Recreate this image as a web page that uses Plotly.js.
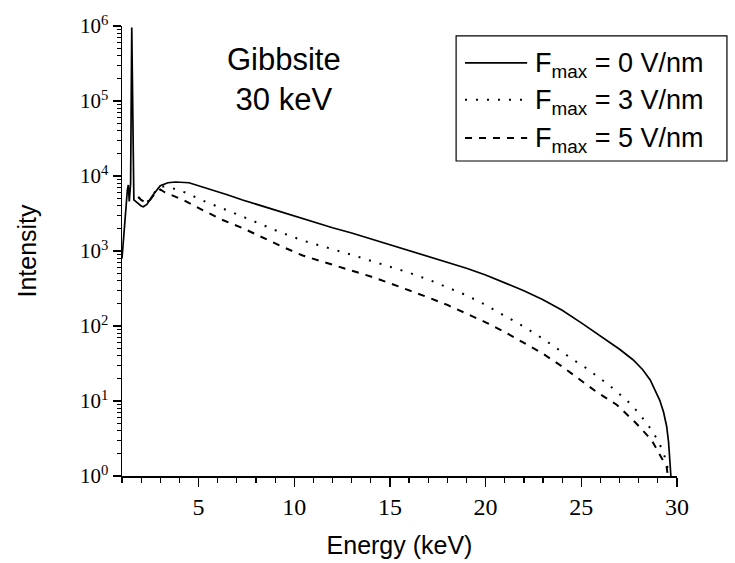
<!DOCTYPE html>
<html>
<head>
<meta charset="utf-8">
<script src="https://cdn.plot.ly/plotly-3.0.1.min.js"></script>
<style>html,body{margin:0;padding:0;background:#fff;}#chart{width:735px;height:563px;}</style>
</head>
<body>
<div id="chart"></div>
<script>
// Energy (keV) and intensity for each field strength
var energy0 = [1.0, 1.07, 1.16, 1.22, 1.28, 1.33, 1.38, 1.45, 1.51, 1.62, 1.8, 2.0, 2.11, 2.3, 2.6, 3.0, 3.4, 3.8, 4.5, 5.0, 5.6, 6.5, 7.3, 8.2, 9.1, 10.0, 10.8, 12, 13, 14, 15, 16, 17, 18, 19, 20, 21, 22, 23, 24, 25, 26, 27, 27.7, 28.2, 28.6, 29.1, 29.3, 29.46, 29.56, 29.63, 29.68];
var intensity0 = [794, 1380, 3160, 4470, 6460, 7590, 4570, 7940, 955000, 4790, 4370, 3980, 3890, 4170, 5500, 7410, 8130, 8320, 8130, 7410, 6760, 5620, 4790, 4070, 3470, 2950, 2510, 2040, 1740, 1450, 1200, 1000, 851, 708, 589, 479, 380, 295, 224, 162, 110, 74.1, 49.0, 35.5, 26.3, 19.1, 10.2, 7.08, 4.57, 2.82, 1.62, 1.0];

var energy3 = [1.85, 2.0, 2.2, 2.4, 2.7, 3.0, 3.3, 3.6, 4.3, 5.42, 6.73, 7.95, 9.17, 10.44, 12, 13, 14, 15, 16, 17, 18, 19, 20, 21, 22, 23, 24, 24.58, 25.19, 25.8, 26.41, 27.01, 27.63, 28.15, 28.62, 28.99, 29.28, 29.46, 29.58];
var intensity3 = [5250, 4790, 4470, 4680, 6030, 7240, 7240, 6920, 6030, 4470, 3310, 2450, 1820, 1380, 1070, 891, 741, 617, 513, 417, 331, 257, 191, 138, 97.7, 67.6, 44.7, 35.5, 28.2, 21.9, 16.6, 12.3, 8.91, 6.17, 4.27, 3.02, 2.09, 1.48, 1.0];

var energy5 = [1.85, 2.0, 2.2, 2.4, 2.7, 3.0, 3.25, 4.2, 5.25, 6.29, 7.34, 8.38, 9.34, 10.44, 12, 13, 14, 15, 16, 17, 18, 19, 20, 21, 22, 23, 24, 24.75, 25.8, 26.85, 27.8, 28.67, 29.28, 29.46, 29.52];
var intensity5 = [5250, 4790, 4470, 4570, 5750, 6610, 6030, 4790, 3470, 2570, 2000, 1480, 1150, 871, 661, 550, 457, 372, 302, 240, 191, 148, 112, 83.2, 60.3, 42.7, 28.8, 20.9, 13.2, 8.91, 5.25, 3.02, 1.62, 1.32, 1.0];

var seriesNames = ["F<sub>max</sub> = 0 V/nm", "F<sub>max</sub> = 3 V/nm", "F<sub>max</sub> = 5 V/nm"];
var seriesDash = ["solid", "2px,9px", "7px,7px"];

var yTickVals = [1, 10, 100, 1000, 10000, 100000, 1000000];
var yTickText = ["10<sup>0</sup>", "10<sup>1</sup>", "10<sup>2</sup>", "10<sup>3</sup>", "10<sup>4</sup>", "10<sup>5</sup>", "10<sup>6</sup>"];

var minorVals = [];
for (var d = 0; d < 6; d++) {
  for (var m = 2; m <= 9; m++) minorVals.push(m * Math.pow(10, d));
}

var xs = [energy0, energy3, energy5];
var ys = [intensity0, intensity3, intensity5];
var traces = xs.map(function (x, i) {
  return {
    x: x, y: ys[i], type: "scatter", mode: "lines", name: seriesNames[i],
    line: {color: "#000", width: i === 0 ? 1.7 : 2, dash: seriesDash[i]},
    showlegend: false, hoverinfo: "skip"
  };
});

var serif = "Liberation Serif, Times New Roman, serif";
var sans = "Liberation Sans, Arial, sans-serif";

// custom legend (paper coordinates)
var legX0 = 0.602, legX1 = 1.09, legY0 = 0.70, legY1 = 0.978;
var rowY = [0.918, 0.836, 0.751];
var shapes = [{type: "rect", xref: "paper", yref: "paper", x0: legX0, x1: legX1, y0: legY0, y1: legY1,
  line: {color: "#000", width: 1.2}, fillcolor: "rgba(0,0,0,0)"}];
var annotations = [{
  xref: "paper", yref: "paper", x: 0.292, y: 0.97, xanchor: "center", yanchor: "top",
  text: "Gibbsite<br>30 keV", showarrow: false, align: "center",
  font: {family: sans, size: 31, color: "#000"}
}];
rowY.forEach(function (ry, i) {
  shapes.push({type: "line", xref: "paper", yref: "paper", x0: 0.618, x1: 0.730, y0: ry, y1: ry,
    line: {color: "#000", width: i === 0 ? 1.7 : 2, dash: seriesDash[i]}});
  annotations.push({xref: "paper", yref: "paper", x: 0.741, y: ry - 0.004, xanchor: "left", yanchor: "middle",
    text: seriesNames[i], showarrow: false, font: {family: sans, size: 27, color: "#000"}});
});

var layout = {
  width: 735, height: 563,
  margin: {l: 122, r: 58, t: 26, b: 87, pad: 0},
  paper_bgcolor: "#fff", plot_bgcolor: "#fff",
  xaxis: {
    range: [1, 30], tick0: 0, dtick: 5, ticks: "outside", ticklen: 9, tickwidth: 1.2, tickcolor: "#000",
    showline: true, linecolor: "#000", linewidth: 1.5, mirror: false, showgrid: false, zeroline: false,
    tickfont: {family: serif, size: 24, color: "#000"},
    minor: {dtick: 1, tick0: 0, ticks: "outside", ticklen: 5, tickwidth: 1.2, tickcolor: "#000", showgrid: false},
    title: {text: "Energy (keV)", font: {family: sans, size: 25, color: "#000"}, standoff: 17}
  },
  yaxis: {
    type: "log", range: [0, 6], tickmode: "array", tickvals: yTickVals, ticktext: yTickText,
    ticks: "outside", ticklen: 8, tickwidth: 1.2, tickcolor: "#000",
    showline: true, linecolor: "#000", linewidth: 1.5, mirror: false, showgrid: false, zeroline: false,
    tickfont: {family: serif, size: 21, color: "#000"},
    minor: {tickmode: "array", tickvals: minorVals, ticks: "outside", ticklen: 4, tickwidth: 1, tickcolor: "#000", showgrid: false},
    title: {text: "Intensity", font: {family: sans, size: 25, color: "#000"}, standoff: 36}
  },
  shapes: shapes,
  annotations: annotations,
  showlegend: false
};

Plotly.newPlot("chart", traces, layout, {displayModeBar: false, staticPlot: true});
</script>
</body>
</html>
